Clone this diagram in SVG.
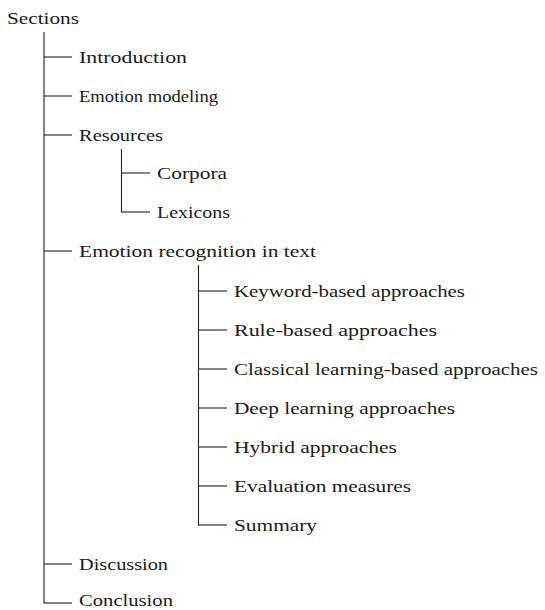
<svg xmlns="http://www.w3.org/2000/svg" width="545" height="610" viewBox="0 0 545 610">
<style>
text{font-family:"Liberation Serif","Times New Roman",serif;font-size:17.5px;fill:#1a1a1a}
.c line{stroke:#222;stroke-width:1.1}
</style>
<rect width="545" height="610" fill="#fff"/>
<g class="c" id="connectors">
<line x1="44" y1="32" x2="44" y2="603.5"/>
<line x1="44" y1="57" x2="72" y2="57"/>
<line x1="44" y1="96" x2="72" y2="96"/>
<line x1="44" y1="135" x2="72" y2="135"/>
<line x1="44" y1="251" x2="72" y2="251"/>
<line x1="44" y1="564" x2="72" y2="564"/>
<line x1="44" y1="603" x2="72" y2="603"/>
<line x1="121.5" y1="149" x2="121.5" y2="212.5"/>
<line x1="121.5" y1="173" x2="150" y2="173"/>
<line x1="121.5" y1="212" x2="150" y2="212"/>
<line x1="198.5" y1="265" x2="198.5" y2="525.5"/>
<line x1="198.5" y1="291" x2="227" y2="291"/>
<line x1="198.5" y1="330" x2="227" y2="330"/>
<line x1="198.5" y1="369" x2="227" y2="369"/>
<line x1="198.5" y1="408" x2="227" y2="408"/>
<line x1="198.5" y1="447" x2="227" y2="447"/>
<line x1="198.5" y1="486" x2="227" y2="486"/>
<line x1="198.5" y1="525" x2="227" y2="525"/>
</g>
<g id="n-sections"><text x="7" y="24" textLength="72" lengthAdjust="spacingAndGlyphs">Sections</text></g>
<g id="n-intro"><text x="79" y="63" textLength="108" lengthAdjust="spacingAndGlyphs">Introduction</text></g>
<g id="n-modeling"><text x="79" y="102" textLength="139" lengthAdjust="spacingAndGlyphs">Emotion modeling</text></g>
<g id="n-resources"><text x="79" y="141" textLength="84" lengthAdjust="spacingAndGlyphs">Resources</text></g>
<g id="n-corpora"><text x="157" y="179" textLength="70" lengthAdjust="spacingAndGlyphs">Corpora</text></g>
<g id="n-lexicons"><text x="157" y="218" textLength="73" lengthAdjust="spacingAndGlyphs">Lexicons</text></g>
<g id="n-recognition"><text x="79" y="257" textLength="237" lengthAdjust="spacingAndGlyphs">Emotion recognition in text</text></g>
<g id="n-keyword"><text x="234" y="297" textLength="231" lengthAdjust="spacingAndGlyphs">Keyword-based approaches</text></g>
<g id="n-rule"><text x="234" y="336" textLength="203" lengthAdjust="spacingAndGlyphs">Rule-based approaches</text></g>
<g id="n-classical"><text x="234" y="375" textLength="304" lengthAdjust="spacingAndGlyphs">Classical learning-based approaches</text></g>
<g id="n-deep"><text x="234" y="414" textLength="221" lengthAdjust="spacingAndGlyphs">Deep learning approaches</text></g>
<g id="n-hybrid"><text x="234" y="453" textLength="163" lengthAdjust="spacingAndGlyphs">Hybrid approaches</text></g>
<g id="n-eval"><text x="234" y="492" textLength="177" lengthAdjust="spacingAndGlyphs">Evaluation measures</text></g>
<g id="n-summary"><text x="234" y="531" textLength="83" lengthAdjust="spacingAndGlyphs">Summary</text></g>
<g id="n-discussion"><text x="79" y="570" textLength="89" lengthAdjust="spacingAndGlyphs">Discussion</text></g>
<g id="n-conclusion"><text x="79" y="606" font-size="16.5" textLength="94" lengthAdjust="spacingAndGlyphs">Conclusion</text></g>
</svg>
